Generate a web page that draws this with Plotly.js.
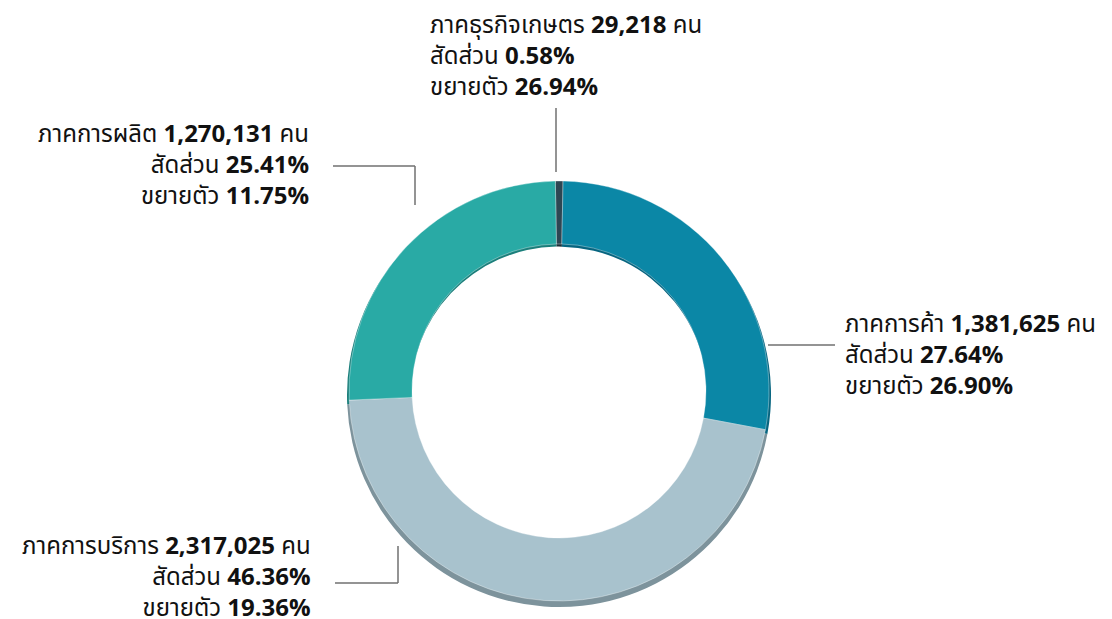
<!DOCTYPE html>
<html>
<head>
<meta charset="utf-8">
<script src="https://cdn.plot.ly/plotly-3.0.1.min.js"></script>
<style>html,body{margin:0;padding:0;background:#fff;}#chart{width:1112px;height:619px;}</style>
</head>
<body>
<div id="chart"></div>
<script>
const sectors = ["ภาคธุรกิจเกษตร", "ภาคการค้า", "ภาคการบริการ", "ภาคการผลิต"];
const workers = [29218, 1381625, 2317025, 1270131];
const shares = ["0.58%", "27.64%", "46.36%", "25.41%"];
const growth = ["26.94%", "26.90%", "19.36%", "11.75%"];
const colors = ["#2d4653", "#0b87a6", "#a8c2cd", "#29aaa5"];
const shadowColors = ["#1c2f38", "#066580", "#7d939c", "#1a7f7b"];

const W = 1112, H = 619;
const cx = 559, cy = 391, R = 212;
function dom(dx, dy, r) {
  return {
    x: [(cx + dx - r) / W, (cx + dx + r) / W],
    y: [(H - (cy + dy) - r) / H, (H - (cy + dy) + r) / H]
  };
}

const fmt = n => n.toLocaleString("en-US");
function label(i) {
  return sectors[i] + " <b>" + fmt(workers[i]) + "</b> คน<br>" +
         "สัดส่วน <b>" + shares[i] + "</b><br>" +
         "ขยายตัว <b>" + growth[i] + "</b>";
}

const traces = [
  {
    type: "pie", values: workers, labels: sectors, sort: false, direction: "clockwise",
    rotation: -1, hole: 0.70, domain: dom(0, 4, R),
    marker: {colors: shadowColors, line: {width: 0}},
    textinfo: "none", hoverinfo: "skip", showlegend: false
  },
  {
    type: "pie", values: workers, labels: sectors, sort: false, direction: "clockwise",
    rotation: -1, hole: 0.70, domain: dom(0, 0, R - 2),
    marker: {colors: colors, line: {color: "rgba(255,255,255,0.35)", width: 1}},
    textinfo: "none", showlegend: false
  }
];

const fontFam = "'Noto Sans Thai', 'Noto Sans', Roboto, sans-serif";
const anns = [
  {i: 0, x: 428, y: 57, xanchor: "left", align: "left"},
  {i: 1, x: 843, y: 356, xanchor: "left", align: "left"},
  {i: 2, x: 313, y: 578, xanchor: "right", align: "right"},
  {i: 3, x: 311, y: 166, xanchor: "right", align: "right"}
].map(a => ({
  text: label(a.i), xref: "paper", yref: "paper",
  x: a.x / W, y: 1 - a.y / H, xanchor: a.xanchor, yanchor: "middle",
  align: a.align, showarrow: false,
  font: {family: fontFam, size: 24, color: "#111"}
}));

function seg(x0, y0, x1, y1) {
  return {type: "line", xref: "paper", yref: "paper",
    x0: x0 / W, y0: 1 - y0 / H, x1: x1 / W, y1: 1 - y1 / H,
    line: {color: "#707070", width: 1.5}};
}
const shapes = [
  seg(556, 108, 556, 172),
  seg(333, 166, 415, 166), seg(415, 166, 415, 205),
  seg(768, 345, 835, 345),
  seg(335, 583, 398, 583), seg(398, 583, 398, 546)
];

Plotly.newPlot("chart", traces, {
  width: W, height: H,
  margin: {l: 0, r: 0, t: 0, b: 0},
  paper_bgcolor: "#fff",
  annotations: anns, shapes: shapes, showlegend: false
}, {displayModeBar: false, staticPlot: true});
</script>
</body>
</html>
